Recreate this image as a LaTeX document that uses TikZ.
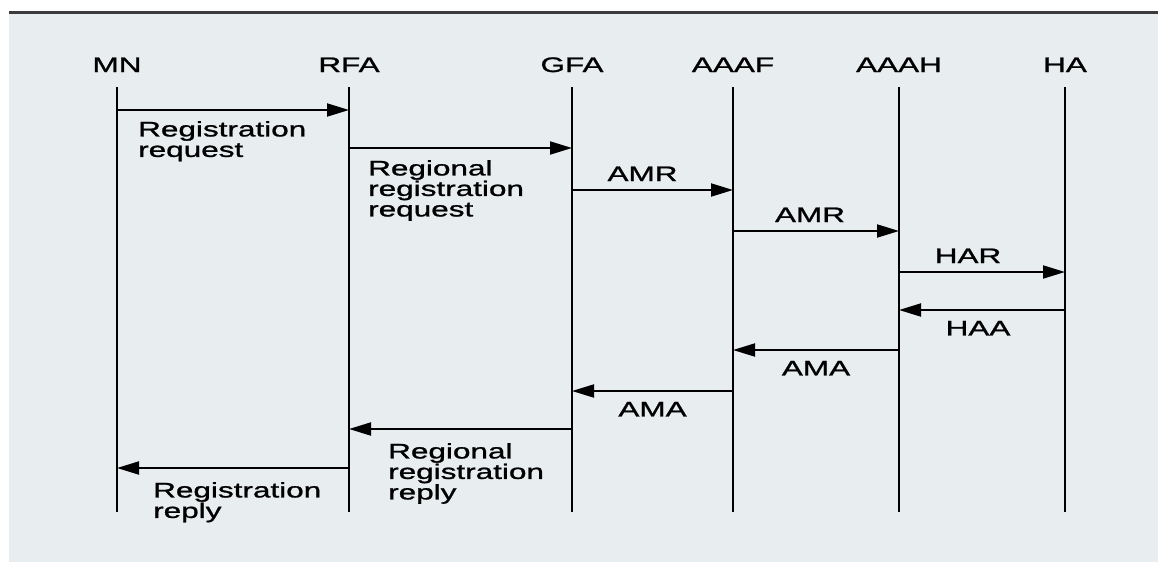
\documentclass[tikz,border=0pt]{standalone}
\usepackage{fontspec}
\newfontfamily\lblfont[FakeStretch=1.5,FakeBold=1.2]{Liberation Sans}
\usepackage{xcolor}
\usepackage{tikz}
\usetikzlibrary{arrows.meta}
\definecolor{panel}{HTML}{E8EDF0}
\definecolor{toprule}{HTML}{3C3C3C}

\begin{document}
\begin{tikzpicture}[x=1pt,y=-1pt]
\tikzset{life/.style={line width=2.2pt,color=black},
         msg/.style={line width=1.9pt,-{Triangle[length=22pt,width=13pt]}},
         lbl/.style={font=\lblfont\fontsize{21}{20.5}\selectfont,inner sep=0pt,align=left}}
\useasboundingbox (0,0) rectangle (1158,562);
% Panel
\fill[panel] (9,13) rectangle (1158,562);
\draw[toprule,line width=3pt] (9,12)--(1158,12);
% Lifelines
\foreach \nm/\lab/\x in {mn/MN/117, rfa/RFA/349, gfa/GFA/572, aaaf/AAAF/733, aaah/AAAH/899, ha/HA/1065}{
  \node[lbl,anchor=base] (\nm) at (\x,72) {\lab};
  \coordinate (\nm-top) at (\x,87);
  \coordinate (\nm-bot) at (\x,512);
  \draw[life] (\nm-top)--(\nm-bot);
}
% Registration
\draw[msg] (mn-top |- 0,110)--(rfa-top |- 0,110);
\node[lbl,anchor=north west] (regreq) at (138,121) {Registration\\request};
\draw[msg] (rfa-top |- 0,148)--(gfa-top |- 0,148);
\node[lbl,anchor=north west] (rregreq) at (368,160) {Regional\\registration\\request};
% AAA requests
\draw[msg] (gfa-top |- 0,190)--(aaaf-top |- 0,190)
  node[lbl,midway,above=8pt,xshift=-10pt]{AMR};
\draw[msg] (aaaf-top |- 0,231)--(aaah-top |- 0,231)
  node[lbl,midway,above=8pt,xshift=-6pt]{AMR};
\draw[msg] (aaah-top |- 0,272)--(ha-top |- 0,272)
  node[lbl,midway,above=8pt,xshift=-14pt]{HAR};
% Answers
\draw[msg] (ha-top |- 0,310)--(aaah-top |- 0,310)
  node[lbl,midway,below=10pt,xshift=-4pt]{HAA};
\draw[msg] (aaah-top |- 0,350)--(aaaf-top |- 0,350)
  node[lbl,midway,below=10pt]{AMA};
\draw[msg] (aaaf-top |- 0,391)--(gfa-top |- 0,391)
  node[lbl,midway,below=10pt]{AMA};
% Replies
\draw[msg] (gfa-top |- 0,429)--(rfa-top |- 0,429);
\node[lbl,anchor=north west] (rregrep) at (388,443) {Regional\\registration\\reply};
\draw[msg] (rfa-top |- 0,468)--(mn-top |- 0,468);
\node[lbl,anchor=north west] (regrep) at (153,482) {Registration\\reply};
\end{tikzpicture}
\end{document}
